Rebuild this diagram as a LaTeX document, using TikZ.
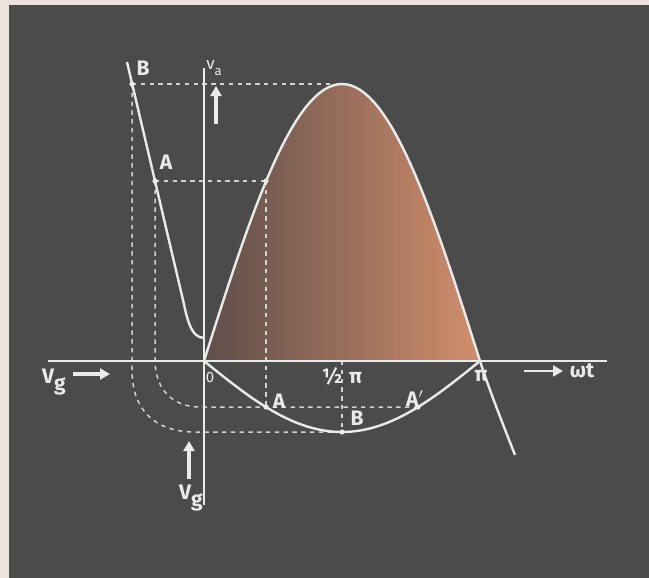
\documentclass[tikz,border=0pt]{standalone}
\usepackage{fontspec}
\setmainfont{Fira Sans}
\usetikzlibrary{arrows.meta}
\definecolor{board}{HTML}{4B4B4C}
\definecolor{paper}{HTML}{EEE2DE}
\definecolor{chalk}{HTML}{EAEAEA}
\definecolor{guidegray}{HTML}{D2D2D2}
\definecolor{fillL}{HTML}{5E4E4A}
\definecolor{fillM}{HTML}{8C6355}
\definecolor{fillR}{HTML}{D28E6C}
\begin{document}
\begin{tikzpicture}[
  x=0.5pt,y=-0.5pt,
  wave/.style={draw=chalk, line width=1.2pt, line join=round},
  axis/.style={draw=chalk, line width=0.8pt},
  guideline/.style={draw=guidegray, line width=0.75pt, dash pattern=on 2.2pt off 2.2pt},
  lbl/.style={text=chalk, font=\fontsize{10.5}{12}\selectfont\bfseries, inner sep=1pt},
  arr/.style={draw=chalk, line width=1.6pt, -{Triangle[length=5pt,width=5.5pt]}},
  dot/.style={circle, fill=chalk, inner sep=0pt, minimum size=2.6pt}
]
\useasboundingbox (0,0) rectangle (649,578);
\fill[paper] (0,0) rectangle (649,578);
\fill[board] (9,5) rectangle (649,578);

% points of the construction
\coordinate (O) at (204,361);
\coordinate (Pi) at (480,361);
\coordinate (H) at (342,361);
\coordinate (xl) at (48,361);
\coordinate (xr) at (607,361);
\coordinate (yt) at (204,68);
\coordinate (yb) at (204,505);
\coordinate (Bc) at (132,84);
\coordinate (Ac) at (155,181);
\coordinate (Btop) at (330,84);
\coordinate (Au) at (266,181);
\coordinate (Al) at (266,407);
\coordinate (Ap) at (418,407);
\coordinate (Bl) at (342,432);
\coordinate (tail) at (515,455);

% shaded half wave of the anode voltage
\shade[left color=fillL, middle color=fillM, right color=fillR]
  (O) -- plot[domain=0:180,samples=61] ({204+1.53333*\x},{361-277*sin(\x)}) -- cycle;

% projection lines
\draw[guideline] (Bc) -- (Btop);
\draw[guideline] (Ac) -- (Au);
\draw[guideline] (Au) -- (Al);
\draw[guideline] (H) -- (Bl);
\draw[guideline] (Bc) -- (132,370) .. controls (132,410) and (155,432) .. (195,432) -- (Bl);
\draw[guideline] (Ac) -- (155,362) .. controls (156,392) and (175,407) .. (200,407) -- (Ap);

% axes
\draw[axis] (xl) -- (xr);
\draw[axis] (yt) -- (yb);

% curves
\draw[wave] plot[domain=0:180,samples=61] ({204+1.53333*\x},{361-277*sin(\x)})
  .. controls (489,389) and (502,422) .. (tail);
\draw[wave] plot[domain=0:180,samples=61] ({204+1.53333*\x},{361+71*sin(\x)});
\draw[wave] (127,62) -- (183,300) .. controls (186.5,315) and (190,338) .. (204,338);

\foreach \p in {Bc,Ac,Au,Al,Ap,Bl}{\node[dot] at (\p) {};}

% arrows
\draw[arr] (216,124) -- (216,86);
\draw[arr] (189,479) -- (189,441);
\draw[arr] (73,374) -- (110,374);
\draw[arr, line width=1.1pt] (524,371) -- (563,371);

% labels
\node[lbl] (lBu) at (143,68) {B};
\node[lbl] (lAu) at (166,162) {A};
\node[lbl] (lAl) at (279,401) {A};
\node[lbl] (lBl) at (357,418) {B};
\node[lbl] (lAp) at (415,399) {A$'$};
\node[lbl, font=\fontsize{7.5}{8}\selectfont] (lO) at (210,377) {0};
\node[lbl] (lH) at (342,376) {½\,\,π};
\node[lbl] (lPi) at (481,376) {π};
\node[lbl] (lwt) at (582,371) {ωt};
\node[lbl] (lVgl) at (54,382) {V\raisebox{-0.55ex}{g}};
\node[lbl] (lVgb) at (191,498) {V\raisebox{-0.55ex}{g}};
\node[lbl, font=\fontsize{8.5}{9}\selectfont] (lVa) at (214,68) {v\raisebox{-0.6ex}{\fontsize{6.5}{7}\selectfont a}};
\end{tikzpicture}
\end{document}
